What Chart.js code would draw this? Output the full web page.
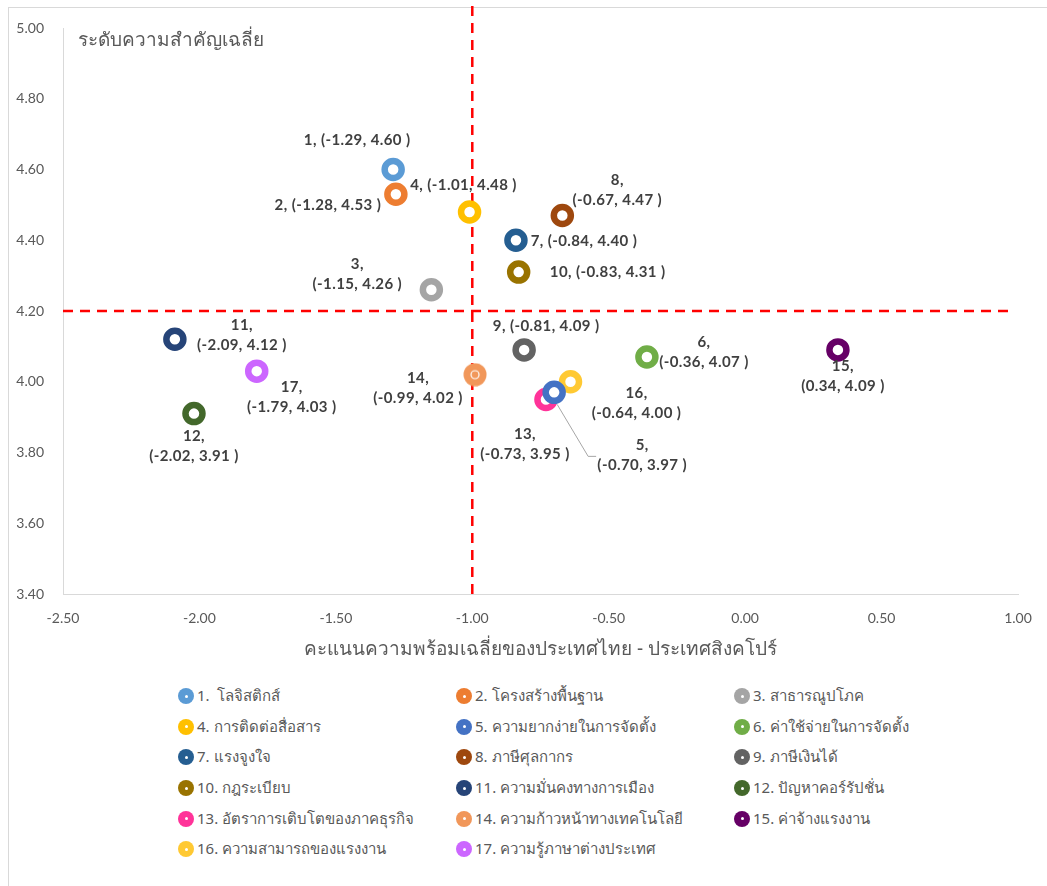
<!DOCTYPE html>
<html>
<head>
<meta charset="utf-8">
<script src="https://cdn.jsdelivr.net/npm/chart.js@4.4.1/dist/chart.umd.min.js"></script>
<style>
    body { margin: 0; background: #fff; overflow: hidden; }
    #wrap { position: relative; width: 1047px; height: 886px; }
    #frame { position: absolute; left: 8px; top: 7px; width: 1100px; height: 900px; border: 1.5px solid #d9d9d9; }
    #box { position: absolute; left: 0; top: 0; width: 1047px; height: 680px; }
    #legend { position: absolute; left: 178px; top: 681px; display: grid;
        grid-template-columns: 278px 278px 278px; grid-auto-rows: 30.6px;
        font-family: "Noto Sans", "Lato", sans-serif; font-size: 15px; color: #595959; }
    .item { display: flex; align-items: center; white-space: pre; }
    .dot { width: 16px; height: 16px; border-radius: 50%; margin-right: 3px; position: relative; flex: none; }
    .dot::after { content: ""; position: absolute; left: 6.5px; top: 6.5px; width: 3px; height: 3px; border-radius: 50%; background: #fff; }
</style>
</head>
<body>
<div id="wrap">
    <div id="frame"></div>
    <div id="box"><canvas id="chart"></canvas></div>
    <div id="legend"></div>
</div>
<script>
const factorNames = [
    "โลจิสติกส์", "โครงสร้างพื้นฐาน", "สาธารณูปโภค", "การติดต่อสื่อสาร",
    "ความยากง่ายในการจัดตั้ง", "ค่าใช้จ่ายในการจัดตั้ง", "แรงจูงใจ", "ภาษีศุลกากร",
    "ภาษีเงินได้", "กฎระเบียบ", "ความมั่นคงทางการเมือง", "ปัญหาคอร์รัปชั่น",
    "อัตราการเติบโตของภาคธุรกิจ", "ความก้าวหน้าทางเทคโนโลยี", "ค่าจ้างแรงงาน",
    "ความสามารถของแรงงาน", "ความรู้ภาษาต่างประเทศ"
];
const readinessGap = [-1.29, -1.28, -1.15, -1.01, -0.70, -0.36, -0.84, -0.67, -0.81, -0.83, -2.09, -2.02, -0.73, -0.99, 0.34, -0.64, -1.79];
const importance = [4.60, 4.53, 4.26, 4.48, 3.97, 4.07, 4.40, 4.47, 4.09, 4.31, 4.12, 3.91, 3.95, 4.02, 4.09, 4.00, 4.03];
const colors = [
    "#5B9BD5", "#ED7D31", "#A5A5A5", "#FFC000", "#4472C4", "#70AD47", "#255E91", "#9E480E",
    "#636363", "#997300", "#264478", "#43682B", "#FF3399", "#F1975A", "#660066", "#FFC933", "#CC66FF"
];
const xTicks = { min: -2.5, max: 1.0, step: 0.5 };
const yTicks = { min: 3.4, max: 5.0, step: 0.2 };
const meanX = -1.0;
const meanY = 4.2;

const yTitle = "ระดับความสำคัญเฉลี่ย";
const xTitle = "คะแนนความพร้อมเฉลี่ยของประเทศไทย - ประเทศสิงคโปร์";

// label placement (px from the point: dx, dy of block centre, lines)
const labelPlace = [
    [-36, -29, 1], [-68, 11, 1], [-74, -16, 2], [-6, -27, 1], [88, 63, 2], [57, -5, 2],
    [68, 1, 1], [55, -25, 2], [22, -24, 1], [89, 0, 1], [67, -4, 2], [0, 33, 2],
    [-21, 45, 2], [-57, 13, 2], [5, 26, 2], [66, 21, 2], [35, 26, 2]
];

// filled marker with a small ring for item 14
function filledMarker(color) {
    const c = document.createElement("canvas");
    c.width = 24; c.height = 24;
    const g = c.getContext("2d");
    g.fillStyle = color;
    g.beginPath(); g.arc(12, 12, 11.5, 0, Math.PI * 2); g.fill();
    g.strokeStyle = "#fff"; g.lineWidth = 1.2;
    g.beginPath(); g.arc(12, 12, 4, 0, Math.PI * 2); g.stroke();
    return c;
}

const datasets = readinessGap.map((x, i) => ({
    label: (i + 1) + ". " + factorNames[i],
    data: [{ x: x, y: importance[i] }],
    backgroundColor: "#ffffff",
    borderColor: colors[i],
    pointRadius: 8.5,
    pointHoverRadius: 8.5,
    borderWidth: 6.5,
    pointStyle: i === 13 ? filledMarker(colors[i]) : "circle",
    order: 1
}));

datasets.unshift({
    type: "line", label: "v", data: [{ x: meanX, y: yTicks.min }, { x: meanX, y: 5.07 }],
    borderColor: "#FF0000", borderWidth: 2.5, borderDash: [10, 7], pointRadius: 0, clip: false, order: 2
}, {
    type: "line", label: "h", data: [{ x: xTicks.min, y: meanY }, { x: 0.98, y: meanY }],
    borderColor: "#FF0000", borderWidth: 2.5, borderDash: [10, 7], pointRadius: 0, clip: false, order: 2
});

const labelPlugin = {
    id: "pointLabels",
    afterDatasetsDraw(chart) {
        const ctx = chart.ctx;
        ctx.save();
        ctx.font = "bold 15px Lato, sans-serif";
        ctx.letterSpacing = "0.4px";
        ctx.fillStyle = "#404040";
        ctx.textAlign = "center";
        ctx.textBaseline = "middle";
        readinessGap.forEach((x, i) => {
            const pt = chart.getDatasetMeta(i + 2).data[0];
            const [dx, dy, lines] = labelPlace[i];
            const head = (i + 1) + ",";
            const body = "(" + x.toFixed(2) + ", " + importance[i].toFixed(2) + " )";
            if (lines === 1) {
                ctx.fillText(head + " " + body, pt.x + dx, pt.y + dy);
            } else {
                ctx.fillText(head, pt.x + dx, pt.y + dy - 10);
                ctx.fillText(body, pt.x + dx, pt.y + dy + 10);
            }
            if (i === 4) {
                ctx.strokeStyle = "#A6A6A6";
                ctx.lineWidth = 1;
                ctx.beginPath();
                ctx.moveTo(pt.x + 3, pt.y + 12);
                ctx.lineTo(pt.x + 34, pt.y + 64);
                ctx.lineTo(pt.x + 42, pt.y + 64);
                ctx.stroke();
            }
        });
        ctx.letterSpacing = "0px";
        ctx.font = "19px 'Noto Sans', sans-serif";
        ctx.fillStyle = "#595959";
        ctx.textAlign = "left";
        ctx.fillText(yTitle, chart.chartArea.left + 15, chart.chartArea.top + 13);
        ctx.restore();
    }
};

const chart = new Chart(document.getElementById("chart"), {
    type: "scatter",
    data: { datasets: datasets },
    plugins: [labelPlugin],
    options: {
        responsive: true,
        maintainAspectRatio: false,
        animation: false,
        layout: { padding: { top: 28, right: 29, left: 0, bottom: 0 } },
        plugins: { legend: { display: false }, tooltip: { enabled: false } },
        scales: {
            x: {
                type: "linear", min: xTicks.min, max: xTicks.max,
                grid: { display: false },
                border: { display: true, color: "#D9D9D9", width: 1 },
                ticks: { stepSize: xTicks.step, padding: 8, color: "#595959",
                    font: { size: 14, family: "Lato, sans-serif" },
                    callback: v => v.toFixed(2) },
                title: { display: true, text: xTitle, color: "#595959",
                    font: { size: 19, family: "'Noto Sans', sans-serif" }, padding: { top: 0, bottom: 19 } },
                afterFit: s => { s.height = 86; }
            },
            y: {
                type: "linear", min: yTicks.min, max: yTicks.max,
                grid: { display: false },
                border: { display: true, color: "#D9D9D9", width: 1 },
                ticks: { stepSize: yTicks.step, padding: 11, color: "#595959",
                    font: { size: 14, family: "Lato, sans-serif" },
                    callback: v => v.toFixed(2) },
                afterFit: s => { s.width = 63; }
            }
        }
    }
});

const legendBox = document.getElementById("legend");
factorNames.forEach((name, i) => {
    const item = document.createElement("div");
    item.className = "item";
    const dot = document.createElement("span");
    dot.className = "dot";
    dot.style.background = colors[i];
    item.appendChild(dot);
    item.appendChild(document.createTextNode((i + 1) + "." + (i === 0 ? "  " : " ") + name));
    legendBox.appendChild(item);
});
</script>
</body>
</html>
